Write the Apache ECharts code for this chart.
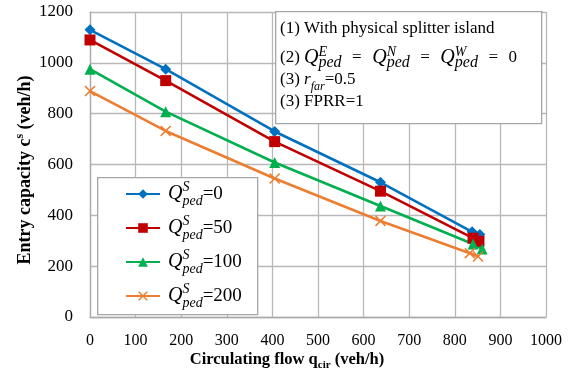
<!DOCTYPE html>
<html><head><meta charset="utf-8">
<script src="https://cdn.jsdelivr.net/npm/echarts@6/dist/echarts.min.js"></script>
<style>html,body{margin:0;padding:0;background:#fff}#c{width:581px;height:376px}</style>
</head><body><div id="c"></div>
<script>
const xTicks = [0,100,200,300,400,500,600,700,800,900,1000];
const yTicks = [0,200,400,600,800,1000,1200];
const seriesNames = ['Qped0','Qped50','Qped100','Qped200'];
const legendValues = ['0','50','100','200'];
const flow0 = [0,166,405,637,838,855];
const cap0 = [1130,975,730,530,335,325];
const flow50 = [0,166,405,637,840,853];
const cap50 = [1090,930,690,495,310,298];
const flow100 = [0,166,405,637,840,860];
const cap100 = [975,808,608,437,287,268];
const flow200 = [0,166,405,637,833,851];
const cap200 = [889,732,545,378,251,238];

const colors = ['#0070C0','#C00000','#00B050','#ED7D31'];
const symbols = ['diamond','rect','triangle','path://M1,0 L5,4 L9,0 L10,1 L6,5 L10,9 L9,10 L5,6 L1,10 L0,9 L4,5 L0,1 Z'];
const symSizes = [11,11,11,11];
const flows = [flow0,flow50,flow100,flow200];
const caps = [cap0,cap50,cap100,cap200];
const serif = 'Liberation Serif';

const series = seriesNames.map((n,i)=>({
  name:n, type:'line', data: flows[i].map((x,j)=>[x,caps[i][j]]),
  symbol: symbols[i], symbolSize: symSizes[i], showAllSymbol:true,
  lineStyle:{color:colors[i], width:2.6}, itemStyle:{color:colors[i]},
  emphasis:{disabled:true}, animation:false, z:3
}));

const rich = {
  q:{fontFamily:serif,fontStyle:'italic',fontSize:20,lineHeight:28,color:'#000'},
  sup:{fontFamily:serif,fontStyle:'italic',fontSize:14,lineHeight:14,width:0,verticalAlign:'top',color:'#000'},
  sub:{fontFamily:serif,fontStyle:'italic',fontSize:14,lineHeight:14,verticalAlign:'bottom',color:'#000'},
  n:{fontFamily:serif,fontSize:19,lineHeight:28,color:'#000'}
};
const rich2 = {
  t:{fontFamily:serif,fontSize:17,lineHeight:26,color:'#000',align:'left'},
  sp:{fontFamily:serif,fontSize:17,lineHeight:26,color:'#000',align:'left',padding:[0,2,0,2]},
  q:{fontFamily:serif,fontStyle:'italic',fontSize:20,lineHeight:26,color:'#000',align:'left'},
  rq:{fontFamily:serif,fontStyle:'italic',fontSize:17,lineHeight:26,color:'#000',align:'left'},
  sup:{fontFamily:serif,fontStyle:'italic',fontSize:14,lineHeight:13,width:0,verticalAlign:'top',color:'#000',align:'left'},
  sub:{fontFamily:serif,fontStyle:'italic',fontSize:16,lineHeight:13,verticalAlign:'bottom',color:'#000',align:'left'},
  rsub:{fontFamily:serif,fontStyle:'italic',fontSize:12,lineHeight:12,verticalAlign:'bottom',color:'#000',align:'left'}
};
const richNameX = {
  b:{fontFamily:serif,fontWeight:'bold',fontSize:16.5,color:'#000',lineHeight:22},
  bsb:{fontFamily:serif,fontWeight:'bold',fontSize:11,color:'#000',lineHeight:14,verticalAlign:'bottom'}
};
const richNameY = {
  b:{fontFamily:serif,fontWeight:'bold',fontSize:18,color:'#000',lineHeight:22},
  bst:{fontFamily:serif,fontWeight:'bold',fontSize:12,color:'#000',lineHeight:14,verticalAlign:'top'}
};
const qp = s => `{q|Q}{sup|${s}}{sub|ped}`;

const chart = echarts.init(document.getElementById('c'),null,{renderer:'canvas'});
chart.setOption({
  backgroundColor:'#fff',
  animation:false,
  grid:{left:90,right:35,top:12,bottom:59,containLabel:false,outerBoundsMode:'none'},
  xAxis:{type:'value',min:0,max:1000,interval:100,
    axisLine:{show:true,lineStyle:{color:'#ababab',width:1.3}},
    axisTick:{show:false},
    splitLine:{show:true,lineStyle:{color:'#b8b8b8',width:1.3}},
    axisLabel:{fontFamily:serif,fontSize:16,color:'#000',margin:16,
      formatter:v=>xTicks.includes(v)?String(v):''}
  },
  yAxis:{type:'value',min:0,max:1200,interval:200,
    axisLine:{show:true,lineStyle:{color:'#ababab',width:1.3}},
    axisTick:{show:false},
    splitLine:{show:true,lineStyle:{color:'#b8b8b8',width:1.3}},
    axisLabel:{fontFamily:serif,fontSize:17,color:'#000',margin:17,
      formatter:v=>yTicks.includes(v)?String(v):''}
  },
  legend:{orient:'vertical',left:125,top:180,itemGap:6,itemWidth:34,itemHeight:12,
    padding:0,
    data:seriesNames,
    formatter:name=>qp('S')+`{n|=${legendValues[seriesNames.indexOf(name)]}}`,
    textStyle:{rich:rich,padding:[0,0,0,3]},
    selectedMode:false, z:10},
  graphic:[
    {type:'rect',left:97,top:177,shape:{width:160,height:137},
      style:{fill:'#fff',stroke:'#a6a6a6',lineWidth:1.3},z:5},
    {type:'rect',left:275,top:11,shape:{width:266,height:112},
      style:{fill:'#fff',stroke:'#a6a6a6',lineWidth:1.3},z:5},
    {type:'text',left:280,top:20,z:6,style:{text:'{t|(1) With physical splitter island}',rich:rich2}},
    {type:'text',left:280,top:45,z:6,style:{
      text:'{t|(2) }'+qp('E')+'{sp|  =  }'+qp('N')+'{sp|  =  }'+qp('W')+'{sp|  =  }{t|0}',rich:rich2}},
    {type:'text',left:280,top:71,z:6,style:{text:'{t|(3) }{rq|r}{rsub|far}{t|=0.5}',rich:rich2}},
    {type:'text',left:280,top:93,z:6,style:{text:'{t|(3) FPRR=1}',rich:rich2}},
    {type:'text',x:287,y:360,z:6,style:{text:'{b|Circulating flow q}{bsb|cir}{b| (veh/h)}',rich:richNameX,
      align:'center',verticalAlign:'middle',textAlign:'center',textVerticalAlign:'middle'}},
    {type:'text',x:25,y:170,rotation:Math.PI/2,z:6,style:{text:'{b|Entry capacity c}{bst|s}{b| (veh/h)}',rich:richNameY,
      align:'center',verticalAlign:'middle',textAlign:'center',textVerticalAlign:'middle'}}
  ],
  series:series
});
</script></body></html>
